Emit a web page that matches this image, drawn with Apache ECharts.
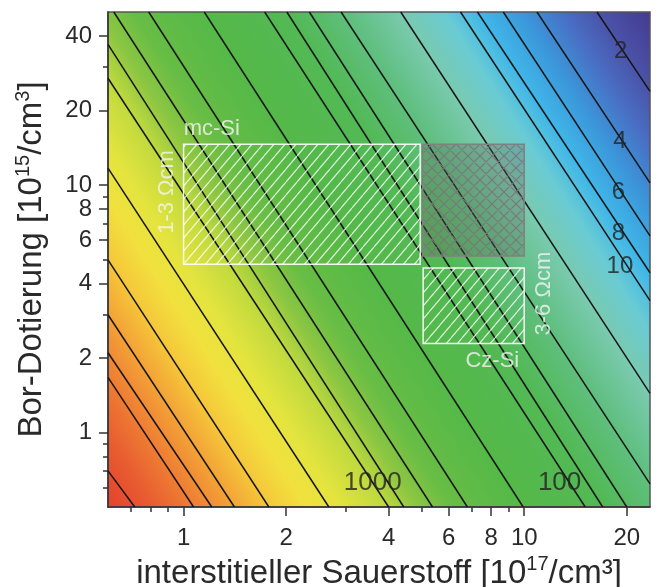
<!DOCTYPE html>
<html>
  <head>
    <meta charset="utf-8" />
    <title>Lebensdauer</title>
    <script src="https://cdn.jsdelivr.net/npm/echarts@6/dist/echarts.min.js"></script>
  </head>
  <body style="margin: 0">
    <div id="chart" style="width: 658px; height: 587px"></div>
    <script type="text/javascript">
      // Konturlinien: Niveau und Endpunkte [Sauerstoff, Bor]
      var levels = [2, 4, 6, 8, 10, 20, 40, 60, 80, 100, 200, 400, 600, 800, 1000, 2000, 4000, 6000, 8000, 10000, 20000];
      var oStart = [16.35, 10.9, 8.68, 7.29, 6.5, 4.34, 2.9, 2.34, 2.01, 1.73, 1.15, 0.79, 0.624, 0.6, 0.6, 0.6, 0.6, 0.6, 0.6, 0.6, 0.6];
      var bStart = [50, 50, 50, 50, 50, 50, 50, 50, 50, 50, 50, 50, 50, 37.0, 27.0, 11.7, 4.98, 2.99, 2.1, 1.67, 0.7];
      var oEnd = [23.4, 23.4, 23.4, 23.4, 23.4, 23.4, 23.4, 20.0, 17.0, 15.1, 9.93, 6.81, 5.38, 4.43, 4.0, 2.67, 1.78, 1.41, 1.21, 1.07, 0.719];
      var bEnd = [23.9, 10.2, 6.23, 4.42, 3.41, 1.44, 0.62, 0.5, 0.5, 0.5, 0.5, 0.5, 0.5, 0.5, 0.5, 0.5, 0.5, 0.5, 0.5, 0.5, 0.5];

      // Beschriftung der Konturen
      var levelText = ["2", "4", "6", "8", "10", "100", "1000"];
      var levelTextO = [19.2, 19.1, 18.9, 18.9, 19.1, 12.7, 3.59];
      var levelTextB = [34.7, 15.0, 9.3, 6.4, 4.71, 0.628, 0.628];

      // Bereiche mc-Si, Überlappung, Cz-Si
      var regO1 = [1.0, 5.03, 5.05];
      var regO2 = [4.95, 10, 10];
      var regB1 = [4.78, 5.17, 2.29];
      var regB2 = [14.6, 14.6, 4.62];

      var noteText = ["mc-Si", "1-3 Ωcm", "Cz-Si", "3-6 Ωcm"];
      var noteO = [1.21, 0.892, 8.06, 11.4];
      var noteB = [16.8, 9.37, 1.95, 3.64];
      var noteRot = [0, 90, 0, 90];

      var xLabelTicks = [1, 2, 4, 6, 8, 10, 20];
      var xMinorTicks = [0.7, 0.8, 0.9, 3, 5, 7, 9];
      var yLabelTicks = [1, 2, 4, 6, 8, 10, 20, 40];
      var yMinorTicks = [0.6, 0.7, 0.8, 0.9, 3, 5, 7, 9, 30];

      var FONT = "Liberation Sans, Arial, sans-serif";

      function hatch(w, h, color, cross, bg) {
        var c = document.createElement("canvas");
        c.width = w;
        c.height = h;
        var ctx = c.getContext("2d");
        if (bg) {
          ctx.fillStyle = bg;
          ctx.fillRect(0, 0, w, h);
        }
        ctx.strokeStyle = color;
        ctx.lineWidth = 1.2;
        ctx.beginPath();
        for (var k = -1; k <= 1; k++) {
          ctx.moveTo(k * w, h);
          ctx.lineTo(k * w + w, 0);
          if (cross) {
            ctx.moveTo(k * w, 0);
            ctx.lineTo(k * w + w, h);
          }
        }
        ctx.stroke();
        return c;
      }
      var whiteHatch = { type: "pattern", image: hatch(11, 13, "rgba(255,255,255,0.8)", false), repeat: "repeat" };
      var grayHatch = { type: "pattern", image: hatch(12, 12, "rgba(120,120,120,0.95)", true, "rgba(100,100,100,0.3)"), repeat: "repeat" };

      var bg = new echarts.graphic.LinearGradient(0, 1, 1.1214, 0.2077, [
        { offset: 0.0, color: "#e3412e" },
        { offset: 0.05, color: "#e85a30" },
        { offset: 0.11, color: "#ef8434" },
        { offset: 0.15, color: "#f3a537" },
        { offset: 0.19, color: "#f5c83a" },
        { offset: 0.23, color: "#f2e03e" },
        { offset: 0.27, color: "#e4e43e" },
        { offset: 0.32, color: "#c2da3e" },
        { offset: 0.36, color: "#8cc642" },
        { offset: 0.4, color: "#68bd45" },
        { offset: 0.48, color: "#55b948" },
        { offset: 0.58, color: "#52b955" },
        { offset: 0.65, color: "#60bf80" },
        { offset: 0.71, color: "#79caae" },
        { offset: 0.76, color: "#6acbd3" },
        { offset: 0.8, color: "#40b7e8" },
        { offset: 0.85, color: "#3b97da" },
        { offset: 0.9, color: "#496dc2" },
        { offset: 0.94, color: "#4a53a9" },
        { offset: 1.0, color: "#443a90" },
      ]);

      var contourSeries = levels.map(function (lv, i) {
        return {
          name: String(lv),
          type: "line",
          data: [
            [oStart[i], bStart[i]],
            [oEnd[i], bEnd[i]],
          ],
          symbol: "none",
          silent: true,
          z: 3,
          lineStyle: { color: "#151515", width: 1.5 },
        };
      });

      var axisBase = {
        type: "log",
        logBase: 10,
        splitLine: { show: false },
        axisLine: { show: true, lineStyle: { color: "#333", width: 1.5 } },
      };

      var chart = echarts.init(document.getElementById("chart"));
      var option = {
        animation: false,
        textStyle: { fontFamily: FONT },
        grid: {
          left: 108,
          right: 8,
          top: 12,
          bottom: 80,
          show: true,
          backgroundColor: bg,
          borderColor: "#555",
          borderWidth: 1.5,
          outerBoundsMode: "none",
        },
        xAxis: [
          Object.assign({}, axisBase, {
            min: 0.6,
            max: 23.4,
            position: "bottom",
            axisTick: { show: true, customValues: xLabelTicks, length: 9, lineStyle: { color: "#333", width: 1.5 } },
            axisLabel: {
              customValues: xLabelTicks,
              fontSize: 24,
              color: "#2a2a2a",
              margin: 19,
              formatter: function (v) { return String(Math.round(v)); },
            },
            name: "{a|interstitieller Sauerstoff [10}{s|17}{a|/cm³]}",
            nameLocation: "middle",
            nameGap: 46,
            nameTextStyle: {
              rich: {
                a: { fontSize: 33, color: "#2a2a2a", lineHeight: 38, fontFamily: FONT },
                s: { fontSize: 20, color: "#2a2a2a", lineHeight: 20, verticalAlign: "top", fontFamily: FONT },
              },
            },
          }),
          Object.assign({}, axisBase, {
            min: 0.6,
            max: 23.4,
            position: "bottom",
            axisLine: { show: false },
            axisTick: { show: true, customValues: xMinorTicks, length: 5, lineStyle: { color: "#333", width: 1.5 } },
            axisLabel: { show: false },
          }),
        ],
        yAxis: [
          Object.assign({}, axisBase, {
            min: 0.5,
            max: 50,
            position: "left",
            axisTick: { show: true, customValues: yLabelTicks, length: 9, lineStyle: { color: "#333", width: 1.5 } },
            axisLabel: {
              customValues: yLabelTicks,
              fontSize: 24,
              color: "#2a2a2a",
              margin: 16,
              formatter: function (v) { return String(Math.round(v)); },
            },
            name: "{a|Bor-Dotierung [10}{s|15}{a|/cm}{s|3}{a|]}",
            nameLocation: "middle",
            nameGap: 57,
            nameTextStyle: {
              rich: {
                a: { fontSize: 33, color: "#2a2a2a", lineHeight: 38, fontFamily: FONT },
                s: { fontSize: 20, color: "#2a2a2a", lineHeight: 20, verticalAlign: "top", fontFamily: FONT },
              },
            },
          }),
          Object.assign({}, axisBase, {
            min: 0.5,
            max: 50,
            position: "left",
            axisLine: { show: false },
            axisTick: { show: true, customValues: yMinorTicks, length: 5, lineStyle: { color: "#333", width: 1.5 } },
            axisLabel: { show: false },
          }),
        ],
        series: contourSeries.concat([
          {
            name: "Bereiche",
            type: "custom",
            z: 5,
            silent: true,
            data: regO1.map(function (o, i) {
              return [o, regO2[i], regB1[i], regB2[i], i];
            }),
            encode: { x: [0, 1], y: [2, 3] },
            renderItem: function (params, api) {
              var p1 = api.coord([api.value(0), api.value(3)]);
              var p2 = api.coord([api.value(1), api.value(2)]);
              var gray = api.value(4) === 1;
              return {
                type: "rect",
                shape: { x: p1[0], y: p1[1], width: p2[0] - p1[0], height: p2[1] - p1[1] },
                style: {
                  fill: gray ? grayHatch : whiteHatch,
                  stroke: gray ? "#808080" : "rgba(255,255,255,0.9)",
                  lineWidth: 1.5,
                },
              };
            },
          },
          {
            name: "Texte",
            type: "scatter",
            z: 6,
            silent: true,
            symbolSize: 0,
            data: levelText
              .map(function (t, i) {
                return {
                  name: t,
                  value: [levelTextO[i], levelTextB[i]],
                  label: { fontSize: t.length > 2 ? 26 : 24, color: "#222" },
                };
              })
              .concat(
                noteText.map(function (t, i) {
                  return {
                    name: t,
                    value: [noteO[i], noteB[i]],
                    label: { fontSize: 22, color: "#f4f4f4", rotate: noteRot[i] },
                  };
                })
              ),
            label: { show: true, position: "inside", formatter: "{b}", fontFamily: FONT },
          },
        ]),
      };
      chart.setOption(option);
    </script>
  </body>
</html>
